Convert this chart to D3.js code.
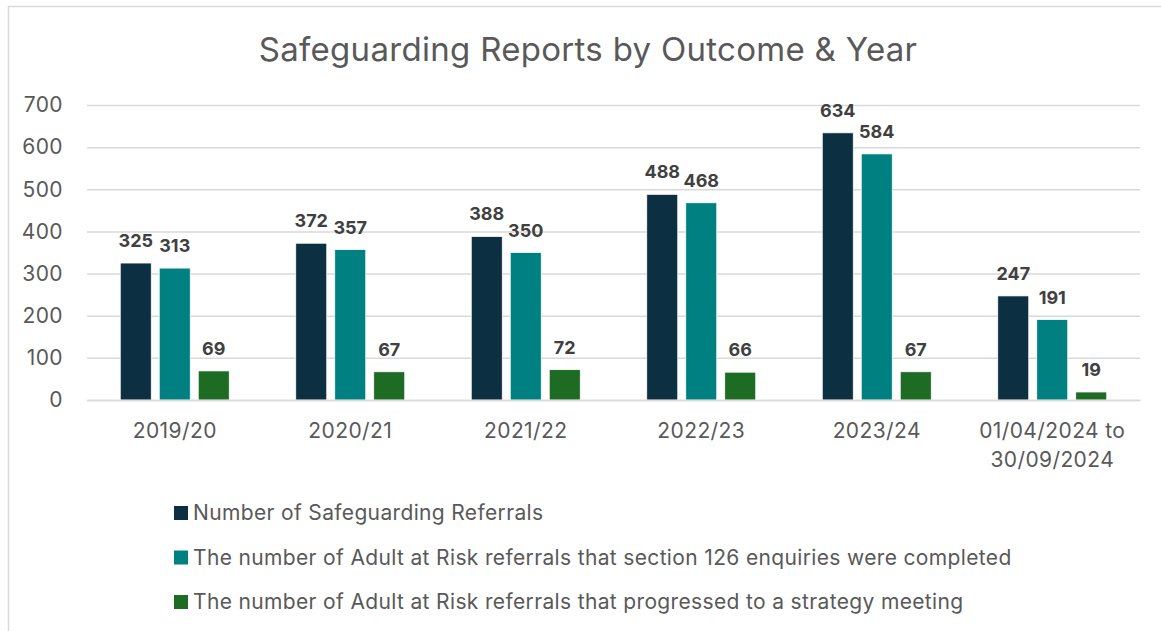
<!DOCTYPE html>
<html>
<head>
<meta charset="utf-8">
<script src="https://cdn.jsdelivr.net/npm/d3@7"></script>
<style>
    body { margin: 0; background: #ffffff; }
    #outcome-chart { width: 1161px; height: 631px; overflow: hidden; }
    text { font-family: Inter, "Noto Sans", sans-serif; }
</style>
</head>
<body>
<div id="outcome-chart"></div>
<script>
// chart data
var years = ["2019/20", "2020/21", "2021/22", "2022/23", "2023/24", "01/04/2024 to|30/09/2024"];
var seriesNames = [
    "Number of Safeguarding Referrals",
    "The number of Adult at Risk referrals that section 126 enquiries were completed",
    "The number of Adult at Risk referrals that progressed to a strategy meeting"
];
var referrals = [325, 372, 388, 488, 634, 247];
var enquiriesCompleted = [313, 357, 350, 468, 584, 191];
var strategyMeetings = [69, 67, 72, 66, 67, 19];
var yTicks = [0, 100, 200, 300, 400, 500, 600, 700];
var seriesColors = ["#0c3042", "#008080", "#1e6b24"];

/**
 * Constructor for the OutcomeChart
 */
function OutcomeChart() {
    var self = this;
    self.init();
}

/**
 * Builds the svg, scales and all marks
 */
OutcomeChart.prototype.init = function () {
    var self = this;
    self.width = 1161;
    self.height = 631;
    self.plot = {left: 87, right: 1140, top: 105, bottom: 400};

    var values = [referrals, enquiriesCompleted, strategyMeetings];

    self.svg = d3.select("#outcome-chart").append("svg")
        .attr("width", self.width)
        .attr("height", self.height);

    // outer chart border (only top and left are inside the picture)
    self.svg.append("rect")
        .attr("x", 8.5)
        .attr("y", 6.5)
        .attr("width", 1170)
        .attr("height", 650)
        .attr("fill", "none")
        .attr("stroke", "#d9d9d9")
        .attr("stroke-width", 1.5);

    self.svg.append("text")
        .attr("x", 588)
        .attr("y", 61)
        .attr("text-anchor", "middle")
        .attr("fill", "#595959")
        .style("font-size", "33px")
        .style("letter-spacing", "0.3px")
        .text("Safeguarding Reports by Outcome & Year");

    self.xScale = d3.scaleBand()
        .domain(years)
        .range([self.plot.left, self.plot.right]);
    self.xInner = d3.scaleBand()
        .domain(d3.range(seriesNames.length))
        .range([0, self.xScale.bandwidth()])
        .paddingInner(0.205)
        .paddingOuter(0.853);
    self.yScale = d3.scaleLinear()
        .domain([0, 700])
        .range([self.plot.bottom, self.plot.top]);

    // gridlines + y labels
    var yAxis = d3.axisLeft(self.yScale)
        .tickValues(yTicks)
        .tickSize(-(self.plot.right - self.plot.left))
        .tickPadding(24)
        .tickFormat(d3.format("d"));
    var gy = self.svg.append("g")
        .attr("id", "yAxis")
        .attr("transform", "translate(" + self.plot.left + ",0)")
        .call(yAxis);
    gy.select(".domain").remove();
    gy.selectAll(".tick line")
        .attr("stroke", "#d9d9d9")
        .attr("stroke-width", 1.5);
    gy.selectAll(".tick text")
        .attr("fill", "#595959")
        .style("font-size", "21px")
        .style("letter-spacing", "0.4px")
        .style("font-family", "Inter, sans-serif");

    // bars
    var groups = self.svg.append("g").attr("id", "bars")
        .selectAll("g")
        .data(years)
        .enter().append("g")
        .attr("transform", function (d) {
            return "translate(" + self.xScale(d) + ",0)";
        });

    var cells = groups.selectAll("rect")
        .data(function (d, i) {
            return values.map(function (v, s) { return {s: s, v: v[i]}; });
        })
        .enter();

    cells.append("rect")
        .attr("x", function (d) { return self.xInner(d.s); })
        .attr("y", function (d) { return self.yScale(d.v); })
        .attr("width", self.xInner.bandwidth())
        .attr("height", function (d) { return self.yScale(0) - self.yScale(d.v); })
        .attr("fill", function (d) { return seriesColors[d.s]; })
        .attr("stroke", "#ffffff")
        .attr("stroke-width", 0.75);

    cells.append("text")
        .attr("x", function (d) { return self.xInner(d.s) + self.xInner.bandwidth() / 2; })
        .attr("y", function (d) { return self.yScale(d.v) - 16; })
        .attr("text-anchor", "middle")
        .attr("fill", "#404040")
        .style("font-size", "18px")
        .style("font-weight", "bold")
        .text(function (d) { return d.v; });

    // x axis line and labels
    var gx = self.svg.append("g")
        .attr("id", "xAxis")
        .attr("transform", "translate(0," + self.plot.bottom + ")")
        .call(d3.axisBottom(self.xScale).tickSize(0).tickPadding(0));
    gx.select(".domain")
        .attr("stroke", "#d9d9d9")
        .attr("stroke-width", 1.5);
    gx.selectAll(".tick text").remove();
    gx.selectAll(".tick").each(function (d) {
        var lines = d.split("|");
        var t = d3.select(this).append("text")
            .attr("text-anchor", "middle")
            .attr("fill", "#595959")
            .style("font-size", "21px")
            .style("letter-spacing", "0.4px")
            .style("font-family", "Inter, sans-serif");
        lines.forEach(function (line, k) {
            t.append("tspan")
                .attr("x", 0)
                .attr("y", 38 + k * 29)
                .text(line);
        });
    });

    // legend
    var legend = self.svg.append("g").attr("id", "legend")
        .selectAll("g")
        .data(seriesNames)
        .enter().append("g")
        .attr("transform", function (d, i) {
            return "translate(174," + (506 + i * 44.5) + ")";
        });
    legend.append("rect")
        .attr("width", 14)
        .attr("height", 14)
        .attr("fill", function (d, i) { return seriesColors[i]; });
    legend.append("text")
        .attr("x", 19)
        .attr("y", 14)
        .attr("fill", "#595959")
        .style("font-size", "21px")
        .style("letter-spacing", "0.35px")
        .text(function (d) { return d; });
};

var chart = new OutcomeChart();
</script>
</body>
</html>
